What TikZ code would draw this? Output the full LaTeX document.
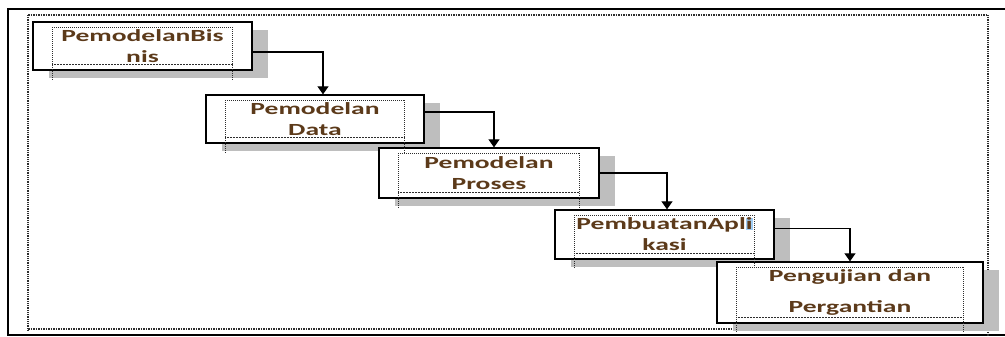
\documentclass[tikz,border=0pt]{standalone}
\usepackage{fontspec}
\newfontfamily\boxfont[FakeStretch=1.62]{Carlito}
\usetikzlibrary{arrows.meta,shadows,calc}
\definecolor{txtbrown}{RGB}{92,58,26}
\definecolor{shadowgray}{RGB}{190,190,190}
\definecolor{dotgray}{RGB}{45,45,45}
\definecolor{selblue}{RGB}{160,205,245}
\begin{document}
\begin{tikzpicture}[x=1pt,y=-1pt,
  stage/.style={draw=black, line width=1.3pt, fill=white, inner sep=0pt,
    font=\boxfont\bfseries\fontsize{17}{21}\selectfont, text=txtbrown, align=center,
    drop shadow={shadow xshift=16pt, shadow yshift=-8pt, opacity=1, fill=shadowgray, draw=none}},
  flow/.style={draw=black, line width=1.1pt, -{Triangle[width=11pt,length=8pt]}},
  framedot/.style={draw=dotgray, line width=1.1pt, dash pattern=on 1.5pt off 1pt},
  framedotside/.style={draw=dotgray, line width=2pt, dash pattern=on 1pt off 0.8pt},
  textdot/.style={draw=dotgray, line width=1pt, dash pattern=on 1pt off 1pt},
  textdotbase/.style={draw=dotgray, line width=1.5pt, dash pattern=on 0.9pt off 0.6pt}]
\useasboundingbox (0,0) rectangle (1005,337);
\clip (0,0) rectangle (1005,337);

% outer frames
\draw[line width=1.5pt] (1012,9) -- (8,9) -- (8,335) -- (1012,335);
\draw[framedot] (28,15) -- (988,15);
\draw[framedot] (28,329) -- (988,329);
\draw[framedotside] (28,15) -- (28,331);
\draw[framedotside] (988,15) -- (988,337);

% process stages
\node[stage, minimum width=219pt, minimum height=48pt] (b1) at (142.5,46) {PemodelanBis\\nis};
\node[stage, minimum width=218pt, minimum height=48pt] (b2) at (315,119) {Pemodelan\\Data};
\node[stage, minimum width=220pt, minimum height=50pt] (b3) at (489,173) {Pemodelan\\Proses};
\node[stage, minimum width=219pt, minimum height=49pt] (b4) at (664.5,234.5) {PembuatanApl{\fboxsep=0pt\colorbox{selblue}{i}}\\kasi};
\node[stage, minimum width=266pt, minimum height=61pt] (b5) at (850,292.5) {Pengujian dan\\[10pt]Pergantian};

% dotted text frames inside each stage
\newcommand\textframe[1]{%
  \draw[textdot] ([shift={(20pt,-6pt)}]#1.north west) -- ([shift={(-20pt,-6pt)}]#1.north east);
  \draw[textdotbase] ([shift={(20pt,6pt)}]#1.south west) -- ([shift={(-20pt,6pt)}]#1.south east);
  \draw[textdot] ([shift={(20pt,-6pt)}]#1.north west) -- ([shift={(20pt,-9pt)}]#1.south west);
  \draw[textdot] ([shift={(-20pt,-6pt)}]#1.north east) -- ([shift={(-20pt,-9pt)}]#1.south east);
}
\textframe{b1}
\textframe{b2}
\textframe{b3}
\textframe{b4}
\textframe{b5}

% connectors
\draw[flow] ([yshift=-6pt]b1.east) -| ([xshift=8pt]b2.north);
\draw[flow] ([yshift=7pt]b2.east) -| ([xshift=5pt]b3.north);
\draw[flow] (b3.east) -| ([xshift=2.5pt]b4.north);
\draw[flow] ([yshift=6pt]b4.east) -| (b5.north);
\end{tikzpicture}
\end{document}
